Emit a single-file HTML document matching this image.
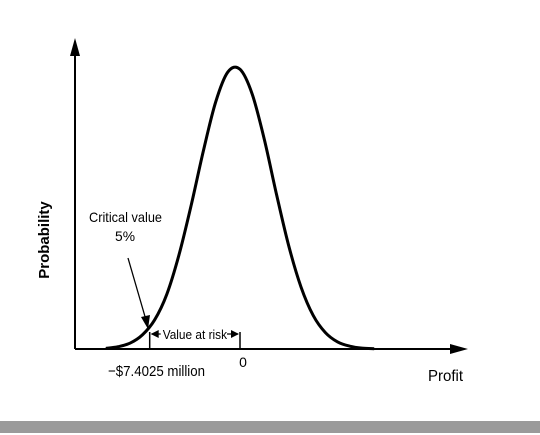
<!DOCTYPE html>
<html><head><meta charset="utf-8"><style>
body{margin:0;background:#fff;}
svg{display:block;font-family:"Liberation Sans",Arial,sans-serif;}
</style></head><body>
<svg width="540" height="435" viewBox="0 0 540 435">
<rect x="0" y="421" width="540" height="12" fill="#9a9a9a"/>
<g id="axes">
 <line x1="75" y1="349" x2="75" y2="48" stroke="#000" stroke-width="2"/>
 <polygon points="75,38 70,56 80,56" fill="#000"/>
 <line x1="75" y1="349" x2="458" y2="349" stroke="#000" stroke-width="2"/>
 <polygon points="468,349 450,344 450,354" fill="#000"/>
</g>
<text x="49" y="240" transform="rotate(-90 49 240)" text-anchor="middle" font-size="15" font-weight="bold">Probability</text>
<text x="428" y="381" font-size="16" textLength="35" lengthAdjust="spacingAndGlyphs">Profit</text>
<path id="curve" fill="none" stroke="#000" stroke-width="3"/>
<g id="marks"></g>
<text x="89" y="222" font-size="14" textLength="73" lengthAdjust="spacingAndGlyphs">Critical value</text>
<text x="115" y="241" font-size="14" textLength="20" lengthAdjust="spacingAndGlyphs">5%</text>
<line x1="128" y1="258" x2="146" y2="320" stroke="#000" stroke-width="1.3"/>
<polygon points="148,329 141,317 150,315" fill="#000"/>
</svg>
<script>
const profitValues=[-11,-10,-9,-8,-7,-6,-5,-4,-3,-2,-1,0,1,2,3,4,5,6,7,8,9,10,11];
const densityValues=[0.002,0.008,0.021,0.05,0.103,0.194,0.334,0.51,0.703,0.875,0.982,0.992,0.904,0.742,0.547,0.365,0.22,0.119,0.058,0.025,0.01,0.003,0.001];
const criticalValue=-7.4025;
const tickLabels=["\u2212$7.4025 million","0"];
const X=v=>240+v*12.2;
const Y=d=>349-d*282;
const pts=profitValues.map((v,i)=>[X(v),Math.min(349,Y(densityValues[i]))]);
let d="M"+pts[0][0]+","+pts[0][1];
for(let i=0;i<pts.length-1;i++){
 const p0=pts[Math.max(0,i-1)],p1=pts[i],p2=pts[i+1],p3=pts[Math.min(pts.length-1,i+2)];
 d+=" C"+(p1[0]+(p2[0]-p0[0])/6)+","+(p1[1]+(p2[1]-p0[1])/6)+" "+(p2[0]-(p3[0]-p1[0])/6)+","+(p2[1]-(p3[1]-p1[1])/6)+" "+p2[0]+","+p2[1];
}
document.getElementById('curve').setAttribute('d',d);
const ns="http://www.w3.org/2000/svg",g=document.getElementById('marks');
function mk(t,a){const e=document.createElementNS(ns,t);for(const k in a)e.setAttribute(k,a[k]);g.appendChild(e);return e;}
const xc=X(criticalValue),x0=X(0);
let e;
e=mk('line',{x1:xc,y1:332,x2:xc,y2:349,stroke:'#000','stroke-width':1.5});


e=mk('line',{x1:x0,y1:332,x2:x0,y2:349,stroke:'#000','stroke-width':1.5});


e=mk('line',{x1:xc+2,y1:334,x2:x0-2,y2:334,stroke:'#000','stroke-width':1.3});


e=mk('polygon',{points:(xc+1)+",334 "+(xc+9)+",330 "+(xc+9)+",338",fill:'#000'});


e=mk('polygon',{points:(x0-1)+",334 "+(x0-9)+",330 "+(x0-9)+",338",fill:'#000'});


e=mk('rect',{x:xc+11,y:326,width:x0-xc-24,height:14,fill:'#fff'});


e=mk('text',{x:(xc+x0)/2,y:339,'text-anchor':'middle','font-size':13,textLength:x0-xc-26,lengthAdjust:'spacingAndGlyphs'});
e.textContent="Value at risk";


e=mk('text',{x:108,y:376,'font-size':15,textLength:97,lengthAdjust:'spacingAndGlyphs'});
e.textContent=tickLabels[0];


e=mk('text',{x:x0+3,y:367,'text-anchor':'middle','font-size':14});
e.textContent=tickLabels[1];


</script>
</body></html>
